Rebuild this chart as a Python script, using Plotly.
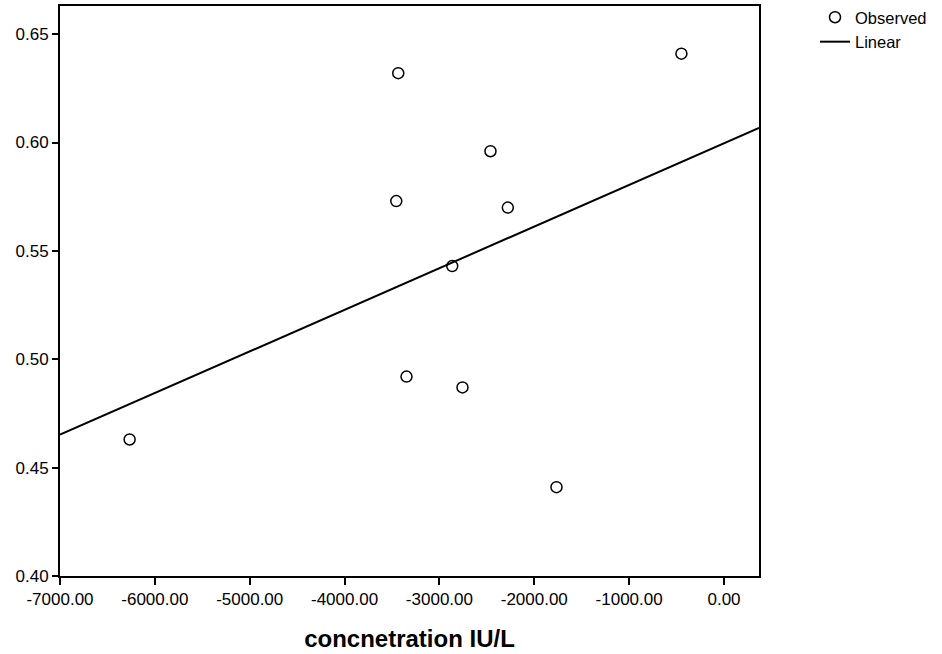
import numpy as np
import plotly.graph_objects as go

concentration = [-6266, -3434, -3455, -3347, -2865, -2757, -2462, -2279, -1766, -449]
value = [0.463, 0.632, 0.573, 0.492, 0.543, 0.487, 0.596, 0.570, 0.441, 0.641]

x_range = [-7000, 369]
y_range = [0.40, 0.663]
x_ticks = [-7000, -6000, -5000, -4000, -3000, -2000, -1000, 0]
x_ticklabels = ["-7000.00", "-6000.00", "-5000.00", "-4000.00", "-3000.00", "-2000.00", "-1000.00", "0.00"]
y_ticks = [0.40, 0.45, 0.50, 0.55, 0.60, 0.65]
y_ticklabels = ["0.40", "0.45", "0.50", "0.55", "0.60", "0.65"]

slope, intercept = np.polyfit(concentration, value, 1)
line_x = np.array(x_range, dtype=float)
line_y = intercept + slope * line_x

fig = go.Figure()
fig.add_trace(go.Scatter(
    x=concentration, y=value, mode="markers", name="Observed",
    marker=dict(symbol="circle-open", size=11, color="black", line=dict(width=1.5, color="black")),
))
fig.add_trace(go.Scatter(
    x=line_x, y=line_y, mode="lines", name="Linear",
    line=dict(color="black", width=2),
))

font = "Liberation Sans, Arial, sans-serif"
fig.update_layout(
    width=942, height=654,
    margin=dict(l=60, r=183, t=6, b=78, autoexpand=False),
    paper_bgcolor="white", plot_bgcolor="white",
    font=dict(family=font, size=17, color="black"),
    showlegend=True,
    legend=dict(x=815 / 942, xref="container", xanchor="left", y=1.0, yref="container", yanchor="top",
                font=dict(family=font, size=16.5, color="black"),
                bgcolor="rgba(0,0,0,0)", tracegroupgap=0, itemwidth=30),
    xaxis=dict(
        range=x_range, tickvals=x_ticks, ticktext=x_ticklabels,
        showgrid=False, zeroline=False, showline=True, linecolor="black", linewidth=2,
        mirror=True, ticks="outside", ticklen=7, tickwidth=2, tickcolor="black",
        tickfont=dict(family=font, size=17, color="black"),
        title=dict(text="<b>concnetration IU/L</b>", font=dict(family=font, size=24, color="black"), standoff=22),
    ),
    yaxis=dict(
        range=y_range, tickvals=y_ticks, ticktext=y_ticklabels,
        showgrid=False, zeroline=False, showline=True, linecolor="black", linewidth=2,
        mirror=True, ticks="outside", ticklen=6, tickwidth=2, tickcolor="black",
        tickfont=dict(family=font, size=17, color="black"),
    ),
)
fig.write_html("out.html")
